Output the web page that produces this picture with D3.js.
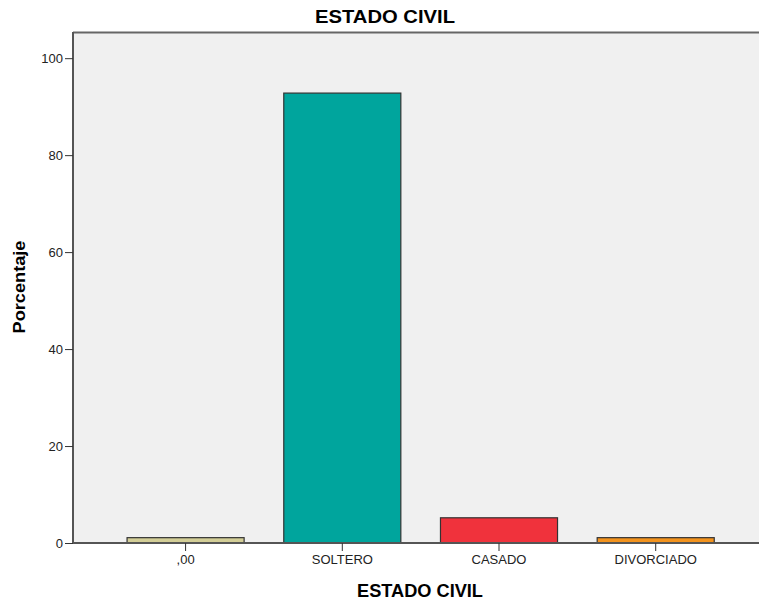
<!DOCTYPE html>
<html><head><meta charset="utf-8">
<script src="https://cdn.jsdelivr.net/npm/d3@7"></script>
<style>body{margin:0;background:#fff;} text{font-family:"Liberation Sans",Arial,sans-serif;}</style>
</head><body>
<svg id="chart" width="759" height="601"></svg>
<script>
const categories = [",00", "SOLTERO", "CASADO", "DIVORCIADO"];
const values = [1.1, 92.8, 5.2, 1.1];
const colors = ["#d3ce97", "#00a59d", "#f0323c", "#f3931d"];
const yTicks = [0, 20, 40, 60, 80, 100];

(function () {
const svg = d3.select("#chart");
const pLeft = 73, pTop = 32, pBottom = 543, pRight = 768.3;

const y = d3.scaleLinear().domain([0, 105.4]).range([pBottom, pTop]);
const x = d3.scaleBand().domain(categories).range([pLeft, pRight]).paddingInner(0.253).paddingOuter(0.345);

svg.append("rect").attr("x", pLeft).attr("y", pTop).attr("width", 759 - pLeft).attr("height", pBottom - pTop).attr("fill", "#f0f0f0");
svg.append("line").attr("x1", pLeft).attr("x2", 759).attr("y1", pTop + 0.5).attr("y2", pTop + 0.5).attr("stroke", "#666").attr("stroke-width", 2);

svg.selectAll("rect.bar").data(categories).enter().append("rect")
  .attr("class", "bar")
  .attr("x", d => x(d)).attr("width", x.bandwidth())
  .attr("y", (d, i) => y(values[i])).attr("height", (d, i) => pBottom - y(values[i]))
  .attr("fill", (d, i) => colors[i]).attr("stroke", "#333").attr("stroke-width", 1.2);

const yAxis = d3.axisLeft(y).tickValues(yTicks).tickSize(8).tickPadding(2);
const gy = svg.append("g").attr("transform", `translate(${pLeft},0)`).call(yAxis);
gy.select(".domain").attr("stroke", "#555").attr("stroke-width", 2).attr("d", `M0,${pTop}V${pBottom}`);
gy.selectAll(".tick line").attr("stroke", "#333");
gy.selectAll(".tick text").attr("font-size", 13).attr("fill", "#222").attr("font-family", "Liberation Sans, Arial, sans-serif");

const xAxis = d3.axisBottom(x).tickSize(8).tickPadding(4);
const gx = svg.append("g").attr("transform", `translate(0,${pBottom})`).call(xAxis);
gx.select(".domain").attr("stroke", "#555").attr("stroke-width", 2).attr("d", `M${pLeft},0H759`);
gx.selectAll(".tick line").attr("stroke", "#333");
gx.selectAll(".tick text").attr("font-size", 13).attr("fill", "#222").attr("font-family", "Liberation Sans, Arial, sans-serif");

svg.append("text").attr("x", 385).attr("y", 23).attr("text-anchor", "middle").attr("font-size", 19).attr("font-weight", "bold").attr("textLength", 140).attr("lengthAdjust", "spacingAndGlyphs").text("ESTADO CIVIL");
svg.append("text").attr("x", 420).attr("y", 597).attr("text-anchor", "middle").attr("font-size", 18).attr("font-weight", "bold").attr("textLength", 126).attr("lengthAdjust", "spacingAndGlyphs").text("ESTADO CIVIL");
svg.append("text").attr("transform", "translate(25,287) rotate(-90)").attr("text-anchor", "middle").attr("font-size", 17).attr("font-weight", "bold").attr("textLength", 93).attr("lengthAdjust", "spacingAndGlyphs").text("Porcentaje");
})();
</script>
</body></html>
